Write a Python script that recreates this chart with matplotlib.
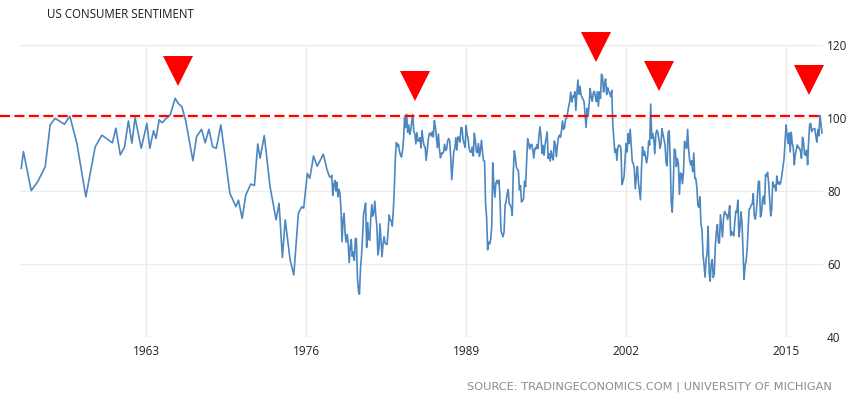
import numpy as np
import matplotlib
matplotlib.use("Agg")
import matplotlib.pyplot as plt

# early survey readings (irregular, before monthly data)
early_years = [1952.85, 1953.03, 1953.66, 1954.2, 1954.8, 1955.2, 1955.6, 1956.36, 1956.8,
               1957.37, 1958.1, 1958.86, 1959.4, 1960.26, 1960.54, 1960.9, 1961.24, 1961.56,
               1961.84, 1962.1, 1962.6, 1963.06, 1963.3, 1963.6, 1963.8, 1964.06, 1964.3,
               1964.6, 1964.95, 1965.36, 1965.6, 1965.9, 1966.2, 1966.8, 1967.1, 1967.5, 1967.8,
               1968.1, 1968.4, 1968.7, 1969.07, 1969.4, 1969.8, 1970.3, 1970.5, 1970.8,
               1971.1, 1971.5, 1971.8, 1972.07, 1972.26, 1972.6, 1973.07, 1973.56, 1973.8,
               1974.07, 1974.3, 1974.7, 1975.0, 1975.37, 1975.65, 1975.8, 1976.1, 1976.3,
               1976.6, 1976.9, 1977.4, 1977.7, 1977.9]
early_values = [86.2, 90.8, 80.1, 82.6, 86.7, 98.1, 99.9, 98.3, 100.5,
                93.1, 78.4, 92.1, 95.3, 93.2, 97.2, 89.9, 92.0, 99.2,
                93.1, 100.1, 91.7, 98.5, 91.7, 96.5, 94.4, 99.5, 98.7,
                99.8, 100.8, 105.4, 104.0, 103.1, 99.5, 88.3, 94.9, 96.9, 93.2,
                96.9, 92.1, 91.7, 98.1, 89.9, 79.4, 75.7, 77.5, 72.5,
                78.9, 81.9, 81.5, 92.9, 89.0, 95.2, 81.2, 72.1, 76.6,
                61.8, 72.1, 61.1, 57.0, 73.9, 75.7, 75.3, 84.8, 83.5,
                89.6, 86.8, 90.1, 85.8, 83.9]

# monthly readings from Jan 1978 to Dec 2017
monthly_start = 1978
monthly_values = [
    83.7, 84.3, 78.8, 81.6, 82.9, 80.0, 82.4, 78.4, 80.4, 79.3, 75.0, 66.1,
    72.1, 73.9, 68.4, 66.0, 68.1, 65.8, 60.4, 64.5, 66.7, 62.1, 63.3, 61.0,
    67.0, 66.9, 56.5, 52.7, 51.7, 58.7, 62.3, 67.3, 73.7, 75.0, 76.7, 64.5,
    71.4, 66.9, 66.5, 72.4, 76.3, 73.1, 74.1, 77.2, 73.1, 70.3, 62.5, 64.3,
    71.0, 66.5, 62.0, 65.5, 67.5, 65.7, 65.4, 65.4, 69.3, 73.4, 72.1, 71.9,
    70.4, 74.6, 80.8, 89.1, 93.3, 92.2, 92.8, 90.9, 89.9, 89.3, 91.1, 94.2,
    100.1, 97.4, 101.0, 96.1, 98.1, 95.5, 96.6, 99.1, 100.9, 96.3, 95.7, 92.9,
    96.0, 93.7, 93.7, 94.6, 91.8, 96.5, 94.0, 92.4, 92.1, 88.4, 90.9, 93.9,
    95.6, 95.9, 95.1, 96.2, 94.8, 99.3, 97.7, 94.9, 91.9, 95.6, 91.4, 89.1,
    90.4, 90.2, 90.8, 92.8, 91.1, 91.5, 93.7, 94.4, 93.6, 89.3, 83.1, 86.8,
    90.8, 91.6, 94.6, 91.2, 94.8, 94.7, 93.4, 97.4, 97.3, 94.1, 93.0, 91.9,
    97.9, 95.4, 94.3, 91.5, 90.7, 90.6, 92.0, 89.6, 95.8, 93.9, 90.9, 90.5,
    93.0, 89.5, 91.3, 93.9, 90.6, 88.3, 88.2, 76.4, 72.8, 63.9, 66.0, 65.5,
    66.8, 70.4, 87.7, 81.8, 78.3, 82.1, 82.9, 82.0, 83.0, 78.3, 69.1, 68.2,
    67.5, 68.8, 76.0, 77.2, 79.2, 80.4, 76.6, 76.1, 75.6, 73.3, 85.3, 91.0,
    89.3, 86.6, 85.9, 85.6, 80.3, 81.5, 77.0, 77.3, 77.9, 82.7, 81.2, 88.2,
    94.3, 93.2, 91.5, 92.6, 92.8, 91.2, 89.0, 91.7, 91.5, 92.7, 91.6, 95.1,
    97.6, 95.1, 90.3, 92.5, 89.8, 92.7, 94.4, 96.2, 88.9, 90.2, 88.2, 91.0,
    89.3, 88.5, 93.7, 92.7, 89.4, 92.4, 94.7, 95.3, 94.7, 96.5, 99.2, 96.9,
    97.4, 99.7, 100.0, 101.4, 103.2, 104.5, 107.1, 104.4, 106.0, 105.6, 107.2, 102.1,
    106.6, 110.4, 106.5, 108.7, 106.5, 105.6, 105.2, 104.4, 100.9, 97.4, 102.7, 100.5,
    103.9, 108.1, 105.7, 104.6, 106.8, 107.3, 106.0, 104.5, 107.2, 103.2, 107.2, 105.4,
    112.0, 111.3, 107.1, 109.2, 110.7, 106.4, 108.3, 107.3, 106.8, 105.8, 107.6, 98.4,
    94.7, 90.6, 91.5, 88.4, 92.0, 92.6, 92.4, 91.5, 81.8, 82.7, 83.9, 88.8,
    93.0, 90.7, 95.7, 93.0, 96.9, 92.4, 88.1, 87.6, 86.1, 80.6, 84.2, 86.7,
    82.4, 79.9, 77.6, 86.0, 92.1, 89.7, 90.9, 89.3, 87.7, 89.6, 93.7, 92.6,
    103.8, 94.4, 95.8, 94.2, 90.2, 95.6, 96.7, 95.9, 94.2, 91.7, 92.8, 97.1,
    95.5, 94.1, 92.6, 87.7, 86.9, 96.0, 96.5, 89.1, 76.9, 74.2, 81.6, 91.5,
    91.2, 86.7, 88.9, 87.4, 79.1, 84.9, 84.7, 82.0, 85.4, 93.6, 92.1, 91.7,
    96.9, 91.3, 88.4, 87.1, 88.3, 85.3, 90.4, 83.4, 83.4, 80.9, 76.1, 75.5,
    78.4, 70.8, 69.5, 62.6, 59.8, 56.4, 61.2, 63.0, 70.3, 57.6, 55.3, 60.1,
    61.2, 56.3, 57.3, 65.1, 68.7, 70.8, 66.0, 65.7, 73.5, 70.6, 67.4, 72.5,
    74.4, 73.6, 73.6, 72.2, 73.6, 76.0, 67.8, 68.9, 68.2, 67.7, 71.6, 74.5,
    74.2, 77.5, 67.5, 69.8, 74.3, 71.5, 63.7, 55.8, 59.5, 60.8, 63.7, 69.9,
    75.0, 75.3, 76.2, 76.4, 79.3, 73.2, 72.3, 74.3, 78.3, 82.6, 82.7, 72.9,
    73.8, 77.6, 78.6, 76.4, 84.5, 84.1, 85.1, 82.1, 77.5, 73.2, 75.1, 82.5,
    81.2, 81.6, 80.0, 84.1, 81.9, 82.5, 81.8, 82.5, 84.6, 86.9, 88.8, 93.6,
    98.1, 95.4, 93.0, 95.9, 90.7, 96.1, 93.1, 91.9, 87.2, 90.0, 91.3, 92.6,
    92.0, 91.7, 91.0, 89.0, 94.7, 93.5, 90.0, 89.8, 91.2, 87.2, 93.8, 98.2,
    98.5, 96.3, 96.9, 97.0, 97.1, 95.1, 93.4, 96.8, 95.1, 100.7, 98.5, 95.9,
]

# peaks flagged with red arrows
peak_years = [1965.6, 1984.85, 1999.55, 2004.67, 2016.86]
peak_marker_y = [112.9, 108.8, 119.5, 111.5, 110.4]
threshold = 100.5

xticks = [1963, 1976, 1989, 2002, 2015]
yticks = [40, 60, 80, 100, 120]

monthly_years = monthly_start + np.arange(len(monthly_values)) / 12.0
years = np.concatenate([early_years, monthly_years])
values = np.concatenate([early_values, monthly_values])

fig = plt.figure(figsize=(8.61, 3.99), dpi=100)
ax = fig.add_axes([20 / 861, 62 / 399, 803 / 861, 292 / 399])

ax.plot(years, values, color="#4d87c0", lw=1.2, zorder=3)
ax.axhline(threshold, xmin=-0.025, xmax=0.997, color="#ff0000", lw=1.6,
           dashes=(4.5, 2), clip_on=False, zorder=4)
ax.plot(peak_years, peak_marker_y, linestyle="none", marker="v", markersize=21,
        color="#ff0000", markeredgewidth=0, clip_on=False, zorder=5)

ax.set_xlim(1952.75, 2018.0)
ax.set_ylim(40, 120)
ax.set_xticks(xticks)
ax.set_yticks(yticks)
ax.yaxis.tick_right()
ax.grid(True, color="#ececec", lw=1)
ax.set_axisbelow(True)
for s in ax.spines.values():
    s.set_visible(False)
ax.tick_params(axis="both", length=0, labelsize=8.5, labelcolor="#222222")
ax.tick_params(axis="x", pad=6)
ax.tick_params(axis="y", pad=3)
for lab in ax.get_xticklabels() + ax.get_yticklabels():
    lab.set_fontfamily("Open Sans")

fig.text(47 / 861, 1 - 14 / 399, "US CONSUMER SENTIMENT", fontsize=8.3, family="Open Sans",
         color="#1a1a1a", va="center", ha="left")
fig.text(832 / 861, 1 - 387 / 399, "SOURCE: TRADINGECONOMICS.COM | UNIVERSITY OF MICHIGAN",
         fontsize=8.2, family="DejaVu Sans", color="#8c8c8c", va="center", ha="right")

fig.savefig("out.png", dpi=100)
